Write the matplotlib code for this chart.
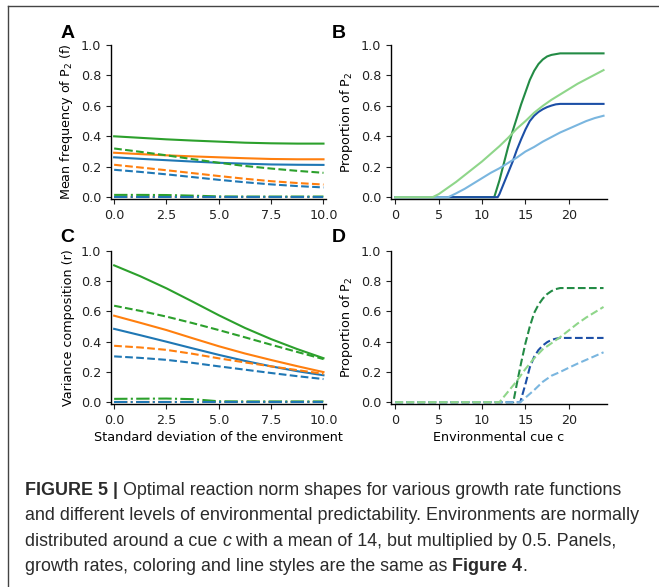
import matplotlib
matplotlib.use("Agg")
import matplotlib.pyplot as plt
from matplotlib.lines import Line2D

# ---- data: panels A and C (std. dev. of environment) ----
sd = [0, 1.25, 2.5, 3.75, 5, 6.25, 7.5, 8.75, 10]

freq_green = [0.400, 0.390, 0.380, 0.372, 0.365, 0.358, 0.354, 0.352, 0.352]
freq_orange = [0.292, 0.283, 0.275, 0.268, 0.262, 0.256, 0.251, 0.249, 0.249]
freq_blue = [0.262, 0.252, 0.243, 0.234, 0.226, 0.220, 0.215, 0.213, 0.212]
freq_green_d = [0.320, 0.298, 0.275, 0.250, 0.226, 0.205, 0.188, 0.173, 0.160]
freq_orange_d = [0.213, 0.195, 0.177, 0.158, 0.139, 0.121, 0.105, 0.093, 0.083]
freq_blue_d = [0.180, 0.166, 0.150, 0.132, 0.114, 0.098, 0.084, 0.073, 0.064]
freq_green_dd = [0.015, 0.015, 0.014, 0.010, 0.005, 0.004, 0.004, 0.004, 0.004]
freq_orange_dd = [0.004, 0.004, 0.004, 0.004, 0.004, 0.004, 0.004, 0.004, 0.004]
freq_blue_dd = [0.003, 0.003, 0.003, 0.003, 0.003, 0.003, 0.003, 0.003, 0.003]

var_green = [0.905, 0.833, 0.753, 0.665, 0.575, 0.491, 0.417, 0.351, 0.291]
var_green_d = [0.638, 0.604, 0.566, 0.523, 0.477, 0.429, 0.380, 0.332, 0.285]
var_orange = [0.572, 0.525, 0.477, 0.423, 0.370, 0.322, 0.279, 0.238, 0.199]
var_blue = [0.485, 0.443, 0.400, 0.356, 0.313, 0.273, 0.237, 0.205, 0.178]
var_orange_d = [0.373, 0.362, 0.346, 0.320, 0.290, 0.263, 0.237, 0.212, 0.188]
var_blue_d = [0.303, 0.293, 0.280, 0.260, 0.237, 0.215, 0.193, 0.172, 0.153]
var_green_dd = [0.022, 0.023, 0.024, 0.020, 0.006, 0.005, 0.005, 0.005, 0.005]
var_orange_dd = [0.004, 0.004, 0.004, 0.004, 0.004, 0.004, 0.004, 0.004, 0.004]
var_blue_dd = [0.003, 0.003, 0.003, 0.003, 0.003, 0.003, 0.003, 0.003, 0.003]

# ---- data: panel B (solid reaction norms) ----
b_dg_x = [0, 11.4, 12, 12.5, 13, 13.5, 14, 14.5, 15, 15.5, 16, 16.5, 17, 17.5, 18, 18.5, 19, 24]
b_dg_y = [0, 0, 0.11, 0.22, 0.33, 0.43, 0.52, 0.61, 0.69, 0.77, 0.83, 0.875, 0.905, 0.925, 0.935, 0.94, 0.945, 0.945]
b_db_x = [0, 11.8, 12, 12.5, 13, 13.5, 14, 14.5, 15, 15.5, 16, 16.5, 17, 17.5, 18, 18.5, 19, 24]
b_db_y = [0, 0, 0.02, 0.09, 0.16, 0.23, 0.31, 0.38, 0.445, 0.50, 0.535, 0.56, 0.578, 0.592, 0.602, 0.61, 0.613, 0.613]
b_lb_x = [0, 6.1, 7, 8, 9, 10, 11, 12, 13, 14, 15, 16, 17, 18, 19, 20, 21, 22, 23, 24]
b_lb_y = [0, 0, 0.025, 0.055, 0.09, 0.125, 0.16, 0.19, 0.225, 0.26, 0.30, 0.33, 0.365, 0.395, 0.425, 0.45, 0.475, 0.50, 0.52, 0.535]
b_lg_x = [0, 4.3, 5, 6, 7, 8, 9, 10, 11, 12, 13, 14, 15, 16, 17, 18, 19, 20, 21, 22, 23, 24]
b_lg_y = [0, 0, 0.02, 0.06, 0.10, 0.145, 0.19, 0.235, 0.285, 0.335, 0.39, 0.45, 0.50, 0.555, 0.60, 0.64, 0.675, 0.71, 0.745, 0.775, 0.805, 0.835]

# ---- data: panel D (dashed reaction norms) ----
d_dg_x = [0, 13.6, 14, 14.5, 15, 15.5, 16, 16.5, 17, 17.5, 18, 18.5, 19, 24]
d_dg_y = [0, 0, 0.12, 0.26, 0.39, 0.50, 0.59, 0.645, 0.685, 0.715, 0.735, 0.748, 0.755, 0.755]
d_db_x = [0, 14.4, 15, 15.5, 16, 16.5, 17, 17.5, 18, 18.5, 19, 24]
d_db_y = [0, 0, 0.12, 0.23, 0.30, 0.345, 0.375, 0.397, 0.412, 0.42, 0.425, 0.425]
d_lb_x = [0, 14.4, 15, 16, 17, 18, 19, 20, 21, 22, 23, 24]
d_lb_y = [0, 0, 0.03, 0.08, 0.135, 0.175, 0.20, 0.228, 0.255, 0.28, 0.305, 0.33]
d_lg_x = [0, 12, 13, 14, 15, 16, 17, 18, 19, 20, 21, 22, 23, 24]
d_lg_y = [0, 0, 0.07, 0.14, 0.22, 0.29, 0.35, 0.39, 0.43, 0.475, 0.52, 0.56, 0.595, 0.63]

sd_ticks = [0.0, 2.5, 5.0, 7.5, 10.0]
cue_ticks = [0, 5, 10, 15, 20]
prop_ticks = [0.0, 0.2, 0.4, 0.6, 0.8, 1.0]

BLUE, ORANGE, GREEN = "#1f77b4", "#ff7f0e", "#2ca02c"
DGREEN, LGREEN = "#238b45", "#8fd68a"
DBLUE, LBLUE = "#1c4fa6", "#7ab6df"

plt.rcParams["font.family"] = "DejaVu Sans"
plt.rcParams["font.size"] = 9.2
plt.rcParams["axes.linewidth"] = 1.0

fig = plt.figure(figsize=(6.59, 5.87), dpi=100)
W, H = 659.0, 587.0


def make_ax(left, top, right, bottom):
    ax = fig.add_axes([left / W, 1 - bottom / H, (right - left) / W, (bottom - top) / H])
    ax.spines["top"].set_visible(False)
    ax.spines["right"].set_visible(False)
    ax.set_ylim(-0.012, 1.0)
    ax.set_yticks(prop_ticks)
    ax.tick_params(colors="#222222", length=3.5)
    return ax


axA = make_ax(111, 45, 326, 199)
axB = make_ax(391, 45, 607, 199)
axC = make_ax(111, 251, 326, 404)
axD = make_ax(391, 251, 607, 404)

lw = 1.5
# panel A
axA.plot(sd, freq_green, color=GREEN, lw=lw)
axA.plot(sd, freq_orange, color=ORANGE, lw=lw)
axA.plot(sd, freq_blue, color=BLUE, lw=lw)
axA.plot(sd, freq_green_d, color=GREEN, lw=lw, ls="--")
axA.plot(sd, freq_orange_d, color=ORANGE, lw=lw, ls="--")
axA.plot(sd, freq_blue_d, color=BLUE, lw=lw, ls="--")
axA.plot(sd, freq_orange_dd, color=ORANGE, lw=lw, ls="-.")
axA.plot(sd, freq_green_dd, color=GREEN, lw=lw, ls="-.")
axA.plot(sd, freq_blue_dd, color=BLUE, lw=lw, ls="-.")
axA.set_xlim(-0.15, 10.12)
axA.set_xticks(sd_ticks)
axA.set_ylabel("Mean frequency of P$_2$ (f)")

# panel C
axC.plot(sd, var_green, color=GREEN, lw=lw)
axC.plot(sd, var_orange, color=ORANGE, lw=lw)
axC.plot(sd, var_blue, color=BLUE, lw=lw)
axC.plot(sd, var_green_d, color=GREEN, lw=lw, ls="--")
axC.plot(sd, var_orange_d, color=ORANGE, lw=lw, ls="--")
axC.plot(sd, var_blue_d, color=BLUE, lw=lw, ls="--")
axC.plot(sd, var_orange_dd, color=ORANGE, lw=lw, ls="-.")
axC.plot(sd, var_green_dd, color=GREEN, lw=lw, ls="-.")
axC.plot(sd, var_blue_dd, color=BLUE, lw=lw, ls="-.")
axC.set_xlim(-0.15, 10.12)
axC.set_xticks(sd_ticks)
axC.set_ylabel("Variance composition (r)")
axC.set_xlabel("Standard deviation of the environment", labelpad=3)

# panel B
axB.plot(b_dg_x, b_dg_y, color=DGREEN, lw=lw)
axB.plot(b_db_x, b_db_y, color=DBLUE, lw=lw)
axB.plot(b_lb_x, b_lb_y, color=LBLUE, lw=lw)
axB.plot(b_lg_x, b_lg_y, color=LGREEN, lw=lw)
axB.set_xlim(-0.5, 24.4)
axB.set_xticks(cue_ticks)
axB.set_ylabel("Proportion of P$_2$")

# panel D
axD.plot(d_dg_x, d_dg_y, color=DGREEN, lw=lw, ls="--")
axD.plot(d_db_x, d_db_y, color=DBLUE, lw=lw, ls="--")
axD.plot(d_lb_x, d_lb_y, color=LBLUE, lw=lw, ls="--")
axD.plot(d_lg_x, d_lg_y, color=LGREEN, lw=lw, ls="--")
axD.set_xlim(-0.5, 24.4)
axD.set_xticks(cue_ticks)
axD.set_ylabel("Proportion of P$_2$")
axD.set_xlabel("Environmental cue c", labelpad=3)

# panel letters
for lab, (px, py) in zip("ABCD", [(68, 33), (339, 33), (67, 237), (339, 237)]):
    fig.text(px / W, 1 - py / H, lab, fontsize=14, fontweight="bold",
             family="Liberation Sans", ha="center", va="center")

# frame lines (left and top edges of the figure box)
fig.add_artist(Line2D([8 / W, 8 / W], [0, 1 - 6 / H], color="#444444", lw=1.0))
fig.add_artist(Line2D([8 / W, 1], [1 - 6 / H, 1 - 6 / H], color="#444444", lw=1.0))

# caption, pieces placed one after another on each line
cap_color = "#2b2b2b"
caption_lines = [
    [("FIGURE 5 |", "bold", "normal"),
     (" Optimal reaction norm shapes for various growth rate functions", "normal", "normal")],
    [("and different levels of environmental predictability. Environments are normally", "normal", "normal")],
    [("distributed around a cue ", "normal", "normal"), ("c", "normal", "italic"),
     (" with a mean of 14, but multiplied by 0.5. Panels,", "normal", "normal")],
    [("growth rates, coloring and line styles are the same as ", "normal", "normal"),
     ("Figure 4", "bold", "normal"), (".", "normal", "normal")],
]
baselines = [495, 520, 546, 571]

renderer = fig.canvas.get_renderer()
for line, yb in zip(caption_lines, baselines):
    x_px = 25.0
    for txt, weight, style in line:
        t = fig.text(x_px / W, 1 - yb / H, txt, ha="left", va="baseline",
                     fontsize=12.9, family="Liberation Sans", fontweight=weight,
                     fontstyle=style, color=cap_color)
        x_px = t.get_window_extent(renderer).x1

fig.savefig("out.png", dpi=100)
